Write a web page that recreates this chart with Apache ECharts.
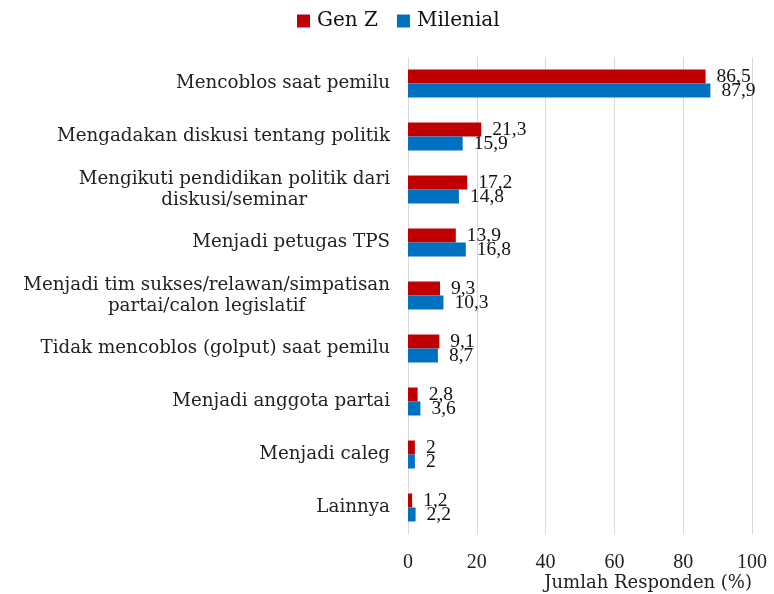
<!DOCTYPE html>
<html>
<head>
<meta charset="utf-8">
<script src="https://cdn.jsdelivr.net/npm/echarts@6/dist/echarts.min.js"></script>
<style>
  html, body { margin: 0; padding: 0; background: #fff; }
  #chart { width: 774px; height: 594px; }
</style>
</head>
<body>
<div id="chart"></div>
<script>
// data
const categories = [
  'Mencoblos saat pemilu',
  'Mengadakan diskusi tentang politik',
  'Mengikuti pendidikan politik dari\ndiskusi/seminar',
  'Menjadi petugas TPS',
  'Menjadi tim sukses/relawan/simpatisan\npartai/calon legislatif',
  'Tidak mencoblos (golput) saat pemilu',
  'Menjadi anggota partai',
  'Menjadi caleg',
  'Lainnya'
]
const genZ = [86.5, 21.3, 17.2, 13.9, 9.3, 9.1, 2.8, 2, 1.2]
const milenial = [87.9, 15.9, 14.8, 16.8, 10.3, 8.7, 3.6, 2, 2.2]
const xTicks = [0, 20, 40, 60, 80, 100]

const FONT = 'DejaVu Serif'
const NUM_FONT = 'Liberation Serif'
const fmt = v => String(v).replace('.', ',')

const chart = echarts.init(document.getElementById('chart'), null, { renderer: 'canvas' })

chart.setOption({
  animation: false,
  textStyle: { fontFamily: FONT },
  legend: {
    top: 6,
    left: 292,
    itemWidth: 13,
    itemHeight: 13,
    itemGap: 19,
    icon: 'rect',
    textStyle: { fontFamily: FONT, fontSize: 20, color: '#111', padding: [0, 0, 0, 2] },
    data: ['Gen Z', 'Milenial']
  },
  grid: {
    left: 408,
    right: 22,
    top: 57,
    bottom: 60,
    outerBoundsMode: 'none'
  },
  xAxis: {
    type: 'value',
    min: xTicks[0],
    max: xTicks[xTicks.length - 1],
    interval: 20,
    name: 'Jumlah Responden (%)',
    nameLocation: 'end',
    nameGap: 0,
    nameTextStyle: {
      fontFamily: FONT, fontSize: 18, color: '#222',
      align: 'right', verticalAlign: 'top', padding: [40, 0, 0, 0]
    },
    axisLine: { show: false },
    axisTick: { show: false },
    axisLabel: { fontFamily: NUM_FONT, fontSize: 20, color: '#222', margin: 19 },
    splitLine: { lineStyle: { color: '#d9d9d9', width: 1 } }
  },
  yAxis: {
    type: 'category',
    inverse: true,
    data: categories,
    axisLine: { show: false },
    axisTick: { show: false },
    axisLabel: {
      margin: 18,
      fontFamily: FONT,
      fontSize: 18.3,
      color: '#222',
      lineHeight: 21,
      formatter: v => v.split('\n').map(l => '{c|' + l + '}').join('\n'),
      rich: { c: { align: 'center', fontFamily: FONT, fontSize: 18.3, color: '#222', lineHeight: 21 } }
    }
  },
  series: [
    {
      name: 'Gen Z',
      type: 'bar',
      data: genZ,
      barWidth: 14,
      barGap: '0%',
      itemStyle: { color: '#C00000' },
      label: {
        show: true, position: 'right', distance: 11,
        fontFamily: NUM_FONT, fontSize: 19.5, color: '#111',
        formatter: p => fmt(p.value)
      }
    },
    {
      name: 'Milenial',
      type: 'bar',
      data: milenial,
      barWidth: 14,
      barGap: '0%',
      itemStyle: { color: '#0070C0' },
      label: {
        show: true, position: 'right', distance: 11,
        fontFamily: NUM_FONT, fontSize: 19.5, color: '#111',
        formatter: p => fmt(p.value)
      }
    }
  ]
})
</script>
</body>
</html>
